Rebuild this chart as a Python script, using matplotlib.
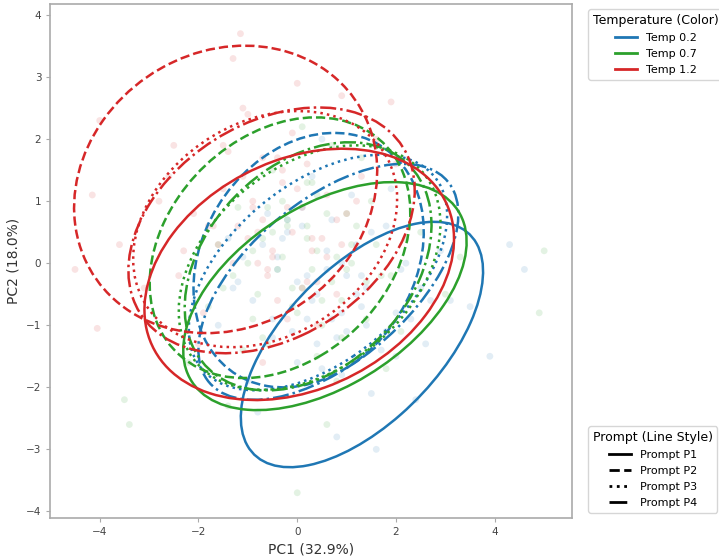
import matplotlib
matplotlib.use("Agg")
import matplotlib.pyplot as plt
from matplotlib.patches import Ellipse
from matplotlib.lines import Line2D

temps = ["Temp 0.2", "Temp 0.7", "Temp 1.2"]
temp_colors = ["#1f77b4", "#2ca02c", "#d62728"]
prompts = ["Prompt P1", "Prompt P2", "Prompt P3", "Prompt P4"]
prompt_styles = ["-", "--", ":", "-."]

# ellipses: one row per temperature, one column per prompt
ell_cx = [[1.31, 0.23, 0.42, 0.63],
          [0.56, -0.35, 0.25, 0.22],
          [0.04, -1.45, -0.65, -0.52]]
ell_cy = [[-1.31, 0.05, -0.15, -0.30],
          [-0.53, 0.25, -0.07, -0.05],
          [-0.18, 1.19, 0.55, 0.53]]
ell_w = [[5.67, 4.92, 5.70, 5.86],
         [6.10, 5.54, 5.62, 5.34],
         [6.43, 6.20, 5.50, 6.03]]
ell_h = [[2.75, 3.79, 3.05, 2.80],
         [3.04, 3.85, 3.47, 3.53],
         [3.79, 4.55, 3.58, 3.60]]
ell_ang = [[35, 30, 28, 30],
           [23, 25, 25, 28],
           [16, 12, 18, 20]]

# scatter points (PC1, PC2) per temperature
pts_x = [
    [0.4, 1.2, -0.5, 0.9, 1.8, 2.3, -1.2, 0.1, 1.5, 2.9, 3.1, -0.8, 0.6, 1.1, 2.0,
     -1.6, 0.3, 2.6, 1.4, -0.2, 0.8, 3.5, 4.3, 4.6, 0.0, -0.4, 1.9, 2.4, 0.7, -1.0,
     1.6, 2.2, 0.2, -0.6, 1.0, 3.9, 0.5, 1.3, -1.4, 2.7,
     0.2, 0.9, -0.3, 1.4, 0.6, -0.9, 1.7, 0.0, 1.2, -0.5, 2.1, 0.4, -1.1, 0.8, 1.5,
     -0.2, 0.3, 1.0, -0.7, 2.5, 0.5, 1.8, -0.4, 0.9, 0.1, 1.3, -1.3, 0.7, 2.0, -0.1],
    [-0.3, 0.5, 1.0, -1.1, 1.7, 0.2, -0.7, 2.1, 1.3, -1.8, 0.8, -0.1, 2.5, 0.4, -1.4,
     1.5, -0.5, 0.9, 3.0, -2.2, 0.1, 1.1, -0.9, 2.8, 0.6, 5.0, 4.9, -0.2, 1.8, -1.2,
     0.3, -0.6, 2.2, 1.4, -3.5, -3.4, 0.7, -1.6, 3.3, 0.0,
     -0.4, 0.2, 0.7, -0.9, 1.2, 0.0, -0.6, 0.9, 0.4, -1.3, 1.6, -0.2, 0.5, -0.8, 1.0,
     0.3, -0.5, 1.4, -0.1, 0.8, -1.0, 0.6, 0.1, -0.3, 1.9, -0.7, 0.2, 1.1, -1.5, 0.4],
    [-0.8, -1.5, 0.2, -2.3, -0.4, 1.0, -1.9, -0.1, 0.6, -2.8, -1.1, 0.4, -3.1, 1.3,
     -0.6, -1.7, -2.5, 0.9, -0.9, -4.0, -4.15, -4.5, -4.05, -1.15, -1.3, 0.3, -0.3,
     1.6, -2.0, -1.3, -0.7, 0.0, -2.6, 0.8, -3.6, 2.0, -1.0, -0.2, 1.9, -0.7,
     -0.5, 0.1, -1.2, -0.3, 0.5, -0.9, -1.6, 0.2, -0.6, 0.8, -1.4, -0.1, 0.4, -2.1,
     -0.8, 0.0, -1.0, 0.6, -0.4, -1.8, 0.3, -0.2, -1.1, 0.9, -0.7, -2.4, 0.1, -0.5,
     1.2, -1.5]]
pts_y = [
    [-0.5, 0.3, -1.2, -1.8, 0.6, -0.9, -0.3, 0.9, -2.1, 0.2, -0.6, -2.4, -0.1, 1.1,
     -1.5, -1.0, 1.4, -1.3, -0.4, 0.5, -2.8, -0.7, 0.3, -0.1, -1.6, 0.1, 1.2, -2.2,
     0.7, -1.9, -3.0, 0.0, -0.9, 0.8, -1.1, -1.5, 2.0, -0.2, 0.4, -0.6,
     -0.2, -0.8, 0.4, -1.0, 0.2, -0.6, -1.4, -0.3, -0.5, -0.9, -0.1, -1.3, 0.1, -1.2,
     0.5, 0.7, -0.6, -0.2, 0.3, -0.4, -1.7, -1.1, -0.1, 0.0, 0.6, -0.7, -0.4, -0.9,
     -0.8, -1.1],
    [0.1, -0.6, 0.8, -1.4, -0.2, 1.3, 0.4, -1.1, 1.7, -0.7, -1.9, -0.4, 0.5, 0.2,
     -2.3, 1.0, 1.5, -1.2, -0.5, -1.6, 2.2, 0.0, -0.9, 1.2, -2.6, 0.2, -0.8, 0.6,
     -1.7, 0.9, -0.1, -1.3, 0.4, -0.3, -2.2, -2.6, 1.9, 0.3, 0.1, -3.7,
     -0.1, 0.4, -0.3, 0.2, 0.6, -0.8, 0.9, -0.6, 1.1, -0.2, 0.3, 0.7, -1.0, -0.5, -0.1,
     1.3, 0.5, -0.9, -0.7, 0.1, 0.0, 0.8, -0.4, 1.0, -0.2, -1.2, 0.6, 0.3, -0.4, -1.5],
    [0.5, 1.2, -0.3, 0.2, 1.7, 0.8, -0.8, 2.1, 0.1, 1.0, 2.5, -1.0, -0.4, 1.4, -0.2,
     0.6, 1.9, 2.7, 0.9, 2.3, 1.1, -0.1, -1.05, 3.7, 3.3, 0.4, 1.5, 2.0, -1.3, 0.0,
     -1.6, 2.9, 1.4, -0.5, 0.3, 1.6, 2.4, -0.9, 2.6, 0.7,
     0.2, 0.9, 0.6, 1.3, 0.4, 1.0, 0.3, 1.6, -0.1, 0.7, 1.8, 0.5, -0.3, 0.8,
     0.0, 1.2, 0.4, 1.1, -0.6, 0.6, 0.2, 0.9, 1.4, 0.3, 1.7, -0.2, -0.4, 0.1,
     1.0, 1.9]]

fig = plt.figure(figsize=(7.19, 5.59), dpi=100)
ax = fig.add_axes([0.07, 0.073, 0.726, 0.92])

for t in range(3):
    ax.scatter(pts_x[t], pts_y[t], s=24, color=temp_colors[t], alpha=0.13,
               edgecolors="none")

for t in range(3):
    for p in range(4):
        e = Ellipse((ell_cx[t][p], ell_cy[t][p]), ell_w[t][p], ell_h[t][p],
                    angle=ell_ang[t][p], facecolor="none",
                    edgecolor=temp_colors[t], linestyle=prompt_styles[p], lw=1.8)
        ax.add_patch(e)

ax.set_xlim(-5.0, 5.57)
ax.set_ylim(-4.11, 4.18)
ax.set_xticks([-4, -2, 0, 2, 4])
ax.set_yticks([-4, -3, -2, -1, 0, 1, 2, 3, 4])
ax.set_xlabel("PC1 (32.9%)", fontsize=10, color="#333333")
ax.set_ylabel("PC2 (18.0%)", fontsize=10, color="#333333")
ax.tick_params(labelsize=7.5, colors="#444444", length=3, color="#aaaaaa")
for s in ax.spines.values():
    s.set_color("#aaaaaa")
    s.set_linewidth(1.2)

temp_handles = [Line2D([0], [0], color=c, lw=2) for c in temp_colors]
leg1 = ax.legend(temp_handles, temps, title="Temperature (Color)",
                 loc="upper left", bbox_to_anchor=(1.02, 1.0), fontsize=8,
                 title_fontsize=9, labelspacing=0.55, frameon=True)
ax.add_artist(leg1)

prompt_handles = [Line2D([0], [0], color="black", lw=2, linestyle=s)
                  for s in prompt_styles]
ax.legend(prompt_handles, prompts, title="Prompt (Line Style)",
          loc="lower left", bbox_to_anchor=(1.02, 0.0), fontsize=8,
          title_fontsize=9, labelspacing=0.55, frameon=True)

fig.savefig("out.png", dpi=100)
